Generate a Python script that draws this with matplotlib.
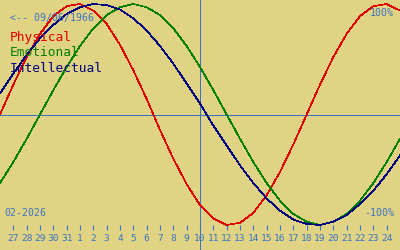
import matplotlib
matplotlib.use("Agg")
import matplotlib.pyplot as plt

# ---- data (daily biorhythm values, %), Jan 26 .. Feb 25 2026 ----
days = list(range(0, 31))  # day offset from 26 Jan 2026
physical = [0, 27, 52, 73, 89, 98, 100, 94, 82, 63, 40, 14, -14, -40, -63, -82,
            -94, -100, -98, -89, -73, -52, -27, 0, 27, 52, 73, 89, 98, 100, 94]
emotional = [-62, -43, -22, 0, 22, 43, 62, 78, 90, 97, 100, 97, 90, 78, 62, 43,
             22, 0, -22, -43, -62, -78, -90, -97, -100, -97, -90, -78, -62, -43, -22]
intellectual = [19, 37, 54, 69, 81, 91, 97, 100, 99, 95, 87, 76, 62, 46, 28, 10,
                -10, -28, -46, -62, -76, -87, -95, -99, -100, -97, -91, -81, -69, -54, -37]
tick_days = list(range(1, 30))
tick_labels = ["27", "28", "29", "30", "31"] + [str(i) for i in range(1, 25)]
today = 15
series_names = ["Physical", "Emotional", "Intellectual"]
birth_label = "<-- 09/06/1966"
month_label = "02-2026"

BG = "#e0d383"
BLUE = "#3a72c4"
colors = ["#e00000", "#008000", "#000080"]

fig = plt.figure(figsize=(4, 2.5), dpi=100, facecolor=BG)
ax = fig.add_axes([0, 0, 1, 1])
ax.set_facecolor(BG)
ax.set_xlim(0, 30)
ax.set_ylim(-122.6, 103.6)

for vals, c in zip([physical, emotional, intellectual], colors):
    ax.plot(days, vals, color=c, lw=0.5, antialiased=False, zorder=3)

ax.axhline(0, color=BLUE, lw=0.6, antialiased=False, zorder=2)
ax.axvline(today, color=BLUE, lw=0.6, antialiased=False, zorder=2)

for s in ax.spines.values():
    s.set_visible(False)
ax.spines["bottom"].set_position(("data", -104.5))
ax.set_xticks(tick_days)
ax.set_xticklabels(tick_labels, fontfamily="DejaVu Sans Mono", fontsize=6.8, color=BLUE)
ax.tick_params(axis="x", direction="in", length=3.6, width=0.8, color=BLUE, pad=2.8)
ax.set_yticks([])

mono = "DejaVu Sans Mono"
def px(x, y):
    return x / 400, 1 - y / 250

fig.text(*px(10, 20.5), birth_label, fontfamily=mono, fontsize=7.1, color=BLUE, va="baseline", ha="left")
for i, (name, c) in enumerate(zip(series_names, colors)):
    fig.text(*px(10, 41.5 + 15 * i), name, fontfamily=mono, fontsize=9.3, color=c, va="baseline", ha="left")
fig.text(*px(394, 16), "100%", fontfamily=mono, fontsize=7.1, color=BLUE, va="baseline", ha="right")
fig.text(*px(394, 216), "-100%", fontfamily=mono, fontsize=7.1, color=BLUE, va="baseline", ha="right")
fig.text(*px(4, 216), month_label, fontfamily=mono, fontsize=7.1, color=BLUE, va="baseline", ha="left")

fig.savefig("out.png", dpi=100, facecolor=BG)
